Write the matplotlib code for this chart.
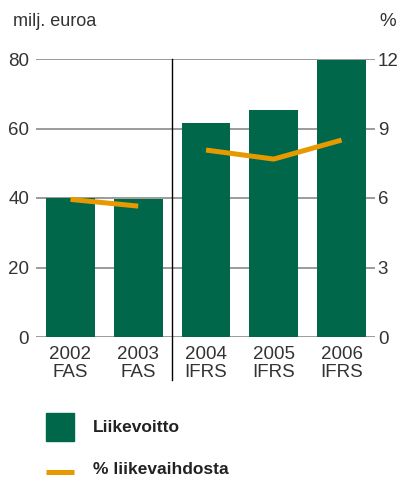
import matplotlib
matplotlib.use("Agg")
import matplotlib.pyplot as plt
from matplotlib.patches import Rectangle
from matplotlib.lines import Line2D

plt.rcParams['font.family'] = ['Liberation Sans', 'DejaVu Sans']

years = ["2002\nFAS", "2003\nFAS", "2004\nIFRS", "2005\nIFRS", "2006\nIFRS"]
liikevoitto = [40.0, 39.6, 61.6, 65.3, 79.7]
pct_fas = [5.94, 5.65]
pct_ifrs = [8.07, 7.68, 8.5]

green = "#00674b"
orange = "#e69a00"
grid = "#8a8a8a"
txt = "#333333"

fig = plt.figure(figsize=(4.02, 4.82), dpi=100)
ax = fig.add_axes([36 / 402, 145 / 482, 339 / 402, 278 / 482])
ax2 = ax.twinx()

x = list(range(len(years)))
ax.bar(x, liikevoitto, width=0.72, color=green, zorder=2)
for v in [0, 20, 40, 60, 80]:
    ax.axhline(v, color=grid, lw=1.2, zorder=1)

ax.set_xlim(-0.509, 4.494)
ax.set_ylim(0, 80)
ax2.set_ylim(0, 12)
ax.set_yticks([0, 20, 40, 60, 80])
ax2.set_yticks([0, 3, 6, 9, 12])
ax.set_xticks(x)
ax.set_xticklabels(years, linespacing=1.1)

ax2.plot([0, 1], pct_fas, color=orange, lw=3.6, solid_capstyle='butt', zorder=3)
ax2.plot([2, 3, 4], pct_ifrs, color=orange, lw=3.6, solid_capstyle='butt', zorder=3)

# divider between FAS and IFRS
ax.plot([1.5, 1.5], [-12.4, 80], color="black", lw=1, clip_on=False, zorder=4)

for a in (ax, ax2):
    for s in a.spines.values():
        s.set_visible(False)
    a.tick_params(length=0, labelsize=13.5, labelcolor=txt)
ax.tick_params(axis='y', pad=5)
ax2.tick_params(axis='y', pad=2)
ax.tick_params(axis='x', pad=6.5)

fig.text(13 / 402, 1 - 21 / 482, "milj. euroa", fontsize=13, color=txt, va='center')
fig.text(396 / 402, 1 - 21 / 482, "%", fontsize=13.5, color=txt, va='center', ha='right')

# legend
fig.patches.append(Rectangle((46 / 402, 1 - 441 / 482), 28 / 402, 28 / 482,
                             transform=fig.transFigure, color=green))
fig.lines.append(Line2D([46 / 402, 74 / 402], [1 - 472 / 482, 1 - 472 / 482],
                        transform=fig.transFigure, color=orange, lw=3.6,
                        solid_capstyle='butt'))
fig.text(93 / 402, 1 - 427 / 482, "Liikevoitto", fontsize=12.5, fontweight='bold',
         color="#222222", va='center')
fig.text(93 / 402, 1 - 470 / 482, "% liikevaihdosta", fontsize=12.5, fontweight='bold',
         color="#222222", va='center')

fig.savefig("out.png", dpi=100)
